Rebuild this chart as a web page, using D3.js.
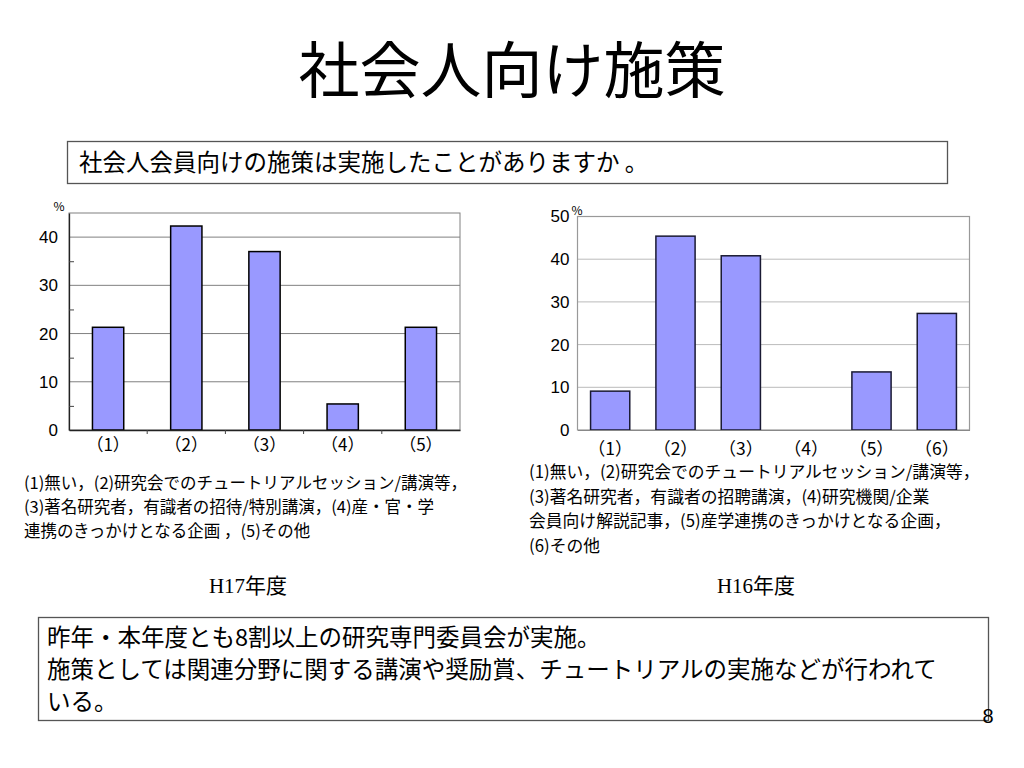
<!DOCTYPE html>
<html><head><meta charset="utf-8">
<script src="https://cdn.jsdelivr.net/npm/d3@7"></script>
<style>
html,body{margin:0;padding:0;background:#fff;}
svg{display:block;}
</style></head>
<body>
<script>
// ---- data ----
const titleText = "社会人向け施策";
const questionText = "社会人会員向けの施策は実施したことがありますか 。";
const h17Categories = ["（1）","（2）","（3）","（4）","（5）"];
const h17Values = [21.3, 42.3, 37.0, 5.4, 21.3];
const h17Ticks = [0, 10, 20, 30, 40];
const h16Categories = ["（1）","（2）","（3）","（4）","（5）","（6）"];
const h16Values = [9.1, 45.4, 40.8, 0, 13.6, 27.3];
const h16Ticks = [0, 10, 20, 30, 40, 50];
const h17Caption = [
  "(1)無い，(2)研究会でのチュートリアルセッション/講演等，",
  "(3)著名研究者，有識者の招待/特別講演，(4)産・官・学",
  "連携のきっかけとなる企画 ，(5)その他"
];
const h16Caption = [
  "(1)無い，(2)研究会でのチュートリアルセッション/講演等，",
  "(3)著名研究者，有識者の招聘講演，(4)研究機関/企業",
  "会員向け解説記事，(5)産学連携のきっかけとなる企画，",
  "(6)その他"
];
const h17Label = ["H17", "年度"];
const h16Label = ["H16", "年度"];
const summaryLines = [
  "昨年・本年度とも8割以上の研究専門委員会が実施。",
  "施策としては関連分野に関する講演や奨励賞、チュートリアルの実施などが行われて",
  "いる。"
];
const pageNumber = "8";

// ---- drawing ----
const JP = "'Noto Sans CJK JP', sans-serif";
const LAT = "'Liberation Sans', Arial, sans-serif";
const svg = d3.select("body").append("svg").attr("width", 1024).attr("height", 768);

svg.append("text").attr("x", 512).attr("y", 71).attr("dy", "0.36em")
  .attr("text-anchor", "middle").attr("font-family", JP).attr("font-size", 61)
  .attr("fill", "#000").text(titleText);

// question box
svg.append("rect").attr("x", 67.5).attr("y", 141.5).attr("width", 880).attr("height", 42)
  .attr("fill", "#fff").attr("stroke", "#555").attr("stroke-width", 1.3);
svg.append("text").attr("x", 79).attr("y", 163).attr("dy", "0.36em")
  .attr("font-family", JP).attr("font-size", 23.5).text(questionText);

// ---- left chart (H17) ----
(function(){
  const x0 = 69, x1 = 460, yTop = 213, yBot = 430;
  const x = d3.scaleBand().domain(h17Categories).range([x0, x1]).paddingInner(0.6).paddingOuter(0.3);
  const y = d3.scaleLinear().domain([0, 45]).range([yBot, yTop]);
  const g = svg.append("g");
  g.append("rect").attr("x", x0).attr("y", yTop).attr("width", x1 - x0).attr("height", yBot - yTop)
    .attr("fill", "#fff").attr("stroke", "#808080").attr("stroke-width", 1);
  g.selectAll(".grid").data(h17Ticks.filter(d => d > 0)).join("line")
    .attr("x1", x0).attr("x2", x1).attr("y1", d => y(d)).attr("y2", d => y(d))
    .attr("stroke", "#808080").attr("stroke-width", 1);
  const ya = d3.axisLeft(y).tickValues(h17Ticks).tickSize(0).tickPadding(11).tickFormat(d3.format("d"));
  const yg = g.append("g").attr("transform", `translate(${x0},0)`).call(ya);
  yg.select(".domain").attr("stroke", "#222").attr("stroke-width", 1.3);
  yg.selectAll("text").attr("font-family", LAT).attr("font-size", 17).attr("fill", "#000");
  const minor = d3.axisRight(y).tickValues([5, 15, 25, 35]).tickSize(5).tickFormat("");
  const mg = g.append("g").attr("transform", `translate(${x0},0)`).call(minor);
  mg.select(".domain").remove();
  mg.selectAll("line").attr("stroke", "#444");
  g.selectAll(".bar").data(h17Values).join("rect")
    .attr("x", (d, i) => x(h17Categories[i])).attr("width", x.bandwidth())
    .attr("y", d => y(d)).attr("height", d => yBot - y(d))
    .attr("fill", "#9999FF").attr("stroke", "#000").attr("stroke-width", 1.5);
  const xa = d3.axisBottom(x).tickSize(0).tickPadding(9);
  const xg = g.append("g").attr("transform", `translate(0,${yBot})`).call(xa);
  xg.select(".domain").attr("stroke", "#222").attr("stroke-width", 1.3);
  xg.selectAll("text").attr("font-family", JP).attr("font-size", 17).attr("fill", "#000");
  const bounds = h17Categories.slice(1).map(c => x(c) - x.step() * x.paddingInner() / 2);
  g.selectAll(".bt").data(bounds).join("line")
    .attr("x1", d => d).attr("x2", d => d).attr("y1", yBot).attr("y2", yBot + 4)
    .attr("stroke", "#444");
  g.append("text").attr("x", 59).attr("y", 211).attr("text-anchor", "middle")
    .attr("font-family", JP).attr("font-size", 12).text("%");
})();

// ---- right chart (H16) ----
(function(){
  const x0 = 577.5, x1 = 969.5, yTop = 216.5, yBot = 430;
  const x = d3.scaleBand().domain(h16Categories).range([x0, x1]).paddingInner(0.4).paddingOuter(0.2);
  const y = d3.scaleLinear().domain([0, 50]).range([yBot, yTop]);
  const g = svg.append("g");
  g.selectAll(".grid").data(h16Ticks.filter(d => d > 0 && d < 50)).join("line")
    .attr("x1", x0).attr("x2", x1).attr("y1", d => y(d)).attr("y2", d => y(d))
    .attr("stroke", "#bbb").attr("stroke-width", 1);
  g.append("rect").attr("x", x0).attr("y", yTop).attr("width", x1 - x0).attr("height", yBot - yTop)
    .attr("fill", "none").attr("stroke", "#999").attr("stroke-width", 1.2);
  const ya = d3.axisLeft(y).tickValues(h16Ticks).tickSize(0).tickPadding(8).tickFormat(d3.format("d"));
  const yg = g.append("g").attr("transform", `translate(${x0},0)`).call(ya);
  yg.select(".domain").remove();
  yg.selectAll("text").attr("font-family", LAT).attr("font-size", 17).attr("fill", "#000");
  g.selectAll(".bar").data(h16Values).join("rect")
    .attr("x", (d, i) => x(h16Categories[i])).attr("width", x.bandwidth())
    .attr("y", d => y(d)).attr("height", d => yBot - y(d))
    .attr("fill", "#9999FF").attr("stroke", "#1a1a33").attr("stroke-width", d => d > 0 ? 1.5 : 0);
  const xa = d3.axisBottom(x).tickSize(0).tickPadding(13);
  const xg = g.append("g").attr("transform", `translate(0,${yBot})`).call(xa);
  xg.select(".domain").attr("stroke", "#888").attr("stroke-width", 1.2);
  xg.selectAll("text").attr("font-family", JP).attr("font-size", 17.5).attr("fill", "#000");
  g.append("text").attr("x", 577).attr("y", 215).attr("text-anchor", "middle")
    .attr("font-family", JP).attr("font-size", 12).text("%");
})();

function caption(lines, x, y0, lh, fs) {
  const t = svg.append("text").attr("font-family", JP).attr("font-size", fs).attr("fill", "#000");
  t.selectAll("tspan").data(lines).join("tspan")
    .attr("x", x).attr("y", (d, i) => y0 + i * lh).attr("dy", "0.36em").text(d => d);
}
caption(h17Caption, 24, 483, 24, 16.5);
caption(h16Caption, 529, 472, 24.5, 16.8);

function yearLabel(parts, cx) {
  const t = svg.append("text").attr("x", cx).attr("y", 585).attr("dy", "0.36em")
    .attr("text-anchor", "middle").attr("font-size", 21).attr("fill", "#000");
  t.append("tspan").attr("font-family", "'Liberation Serif', 'Times New Roman', serif").text(parts[0]);
  t.append("tspan").attr("font-family", JP).text(parts[1]);
}
yearLabel(h17Label, 248);
yearLabel(h16Label, 756);

svg.append("rect").attr("x", 38.5).attr("y", 617.5).attr("width", 950).attr("height", 103)
  .attr("fill", "#fff").attr("stroke", "#555").attr("stroke-width", 1.3);
const st = svg.append("text").attr("font-family", JP).attr("font-size", 23.5).attr("fill", "#000");
st.selectAll("tspan").data(summaryLines).join("tspan")
  .attr("x", 47).attr("y", (d, i) => 638 + i * 32).attr("dy", "0.36em").text(d => d);

svg.append("text").attr("x", 988).attr("y", 716).attr("dy", "0.36em").attr("text-anchor", "middle")
  .attr("font-family", LAT).attr("font-size", 20).text(pageNumber);
</script>
</body></html>
